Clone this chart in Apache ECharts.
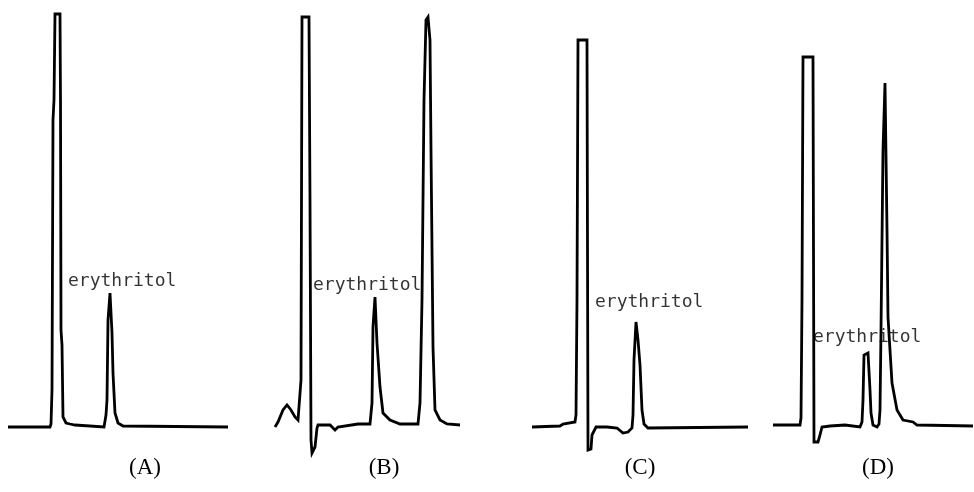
<!DOCTYPE html>
<html>
<head>
<meta charset="utf-8">
<script src="https://cdn.jsdelivr.net/npm/echarts@6/dist/echarts.min.js"></script>
<style>html,body{margin:0;padding:0;background:#fff;}#c{width:974px;height:492px;}</style>
</head>
<body>
<div id="c"></div>
<script>
// Chromatogram traces: [retention time (arb. units), detector signal (arb. units)]
const traceA = [[8,13],[50,13],[51,16],[52,50],[53,320],[54,340],[55,426],[60,426],[60.5,340],[61,110],[62,95],[63,23],[66,17],[70,16],[75,15],[77,13],[104,13],[106,25],[107,40],[108,120],[110,147],[111,146],[112,107],[113,67],[115,27],[118,17],[123,14],[228,13]];
const traceB = [[15,13],[18,18],[23,30],[27,35],[31,30],[35,23],[38,20],[40,19],[41,60],[42,423],[49,423],[50,240],[51,0],[52,-13],[55,-7],[57,12],[58,15],[70,15],[75,10],[78,13],[98,16],[100,17],[110,16],[112,37],[113,113],[115,143],[117,97],[120,53],[123,27],[130,20],[140,16],[158,16],[160,37],[162,140],[164,340],[166,420],[168,423],[170,400],[171,290],[173,93],[175,30],[180,20],[187,16],[200,15]];
const traceC = [[12,13],[40,14],[43,16],[55,18],[56,25],[57,140],[58,400],[67,400],[67.5,190],[68,-10],[71,-9],[72,5],[76,13],[87,13],[97,12],[103,7],[108,8],[112,12],[113,25],[114,80],[116,118],[117,120],[118,100],[120,75],[122,30],[124,16],[128,12],[228,13]];
const traceD = [[13,15],[40,15],[41,22],[42,140],[43,383],[53,383],[53.5,190],[54,-2],[58,-2],[60,5],[62,13],[70,14],[85,15],[100,13],[102,18],[103,40],[104,85],[106,87],[108,87],[110,50],[111,27],[113,15],[117,13],[119,16],[120,30],[121,110],[123,290],[125,357],[127,210],[128,123],[132,57],[137,30],[143,20],[153,18],[157,15],[213,14]];
const peakLabelText = 'erythritol';
const peakLabelPos = [[68,159],[53,155],[75,138],[53,103]];
const panelLabels = ['(A)','(B)','(C)','(D)'];

const traces = [traceA, traceB, traceC, traceD];
const panels = [{left:0,width:240},{left:260,width:210},{left:520,width:240},{left:760,width:214}];
const labelCenters = [140,379,635,873];

const chart = echarts.init(document.getElementById('c'), null, {renderer:'canvas'});
const grid = [], xAxis = [], yAxis = [], series = [], title = [];
panels.forEach((p,i)=>{
  grid.push({left:p.left, top:0, width:p.width, height:480, containLabel:false});
  xAxis.push({type:'value', gridIndex:i, min:0, max:p.width, show:false});
  yAxis.push({type:'value', gridIndex:i, min:-40, max:440, show:false});
  series.push({type:'line', xAxisIndex:i, yAxisIndex:i, data:traces[i], showSymbol:false, symbol:'none',
    lineStyle:{color:'#000', width:2.8, join:'miter'}, silent:true, animation:false, z:2});
  series.push({type:'scatter', xAxisIndex:i, yAxisIndex:i, data:[peakLabelPos[i]], symbolSize:0, silent:true, animation:false, z:3,
    label:{show:true, position:'right', distance:0, formatter:peakLabelText, color:'#000',
      fontFamily:'DejaVu Sans Mono', fontSize:18}});
  title.push({text:panelLabels[i], left:labelCenters[i], top:451, textAlign:'center',
    textStyle:{fontFamily:'Liberation Serif', fontWeight:'normal', fontSize:23, color:'#000'}});
});
chart.setOption({animation:false, backgroundColor:'#fff', title, grid, xAxis, yAxis, series});
</script>
</body>
</html>
